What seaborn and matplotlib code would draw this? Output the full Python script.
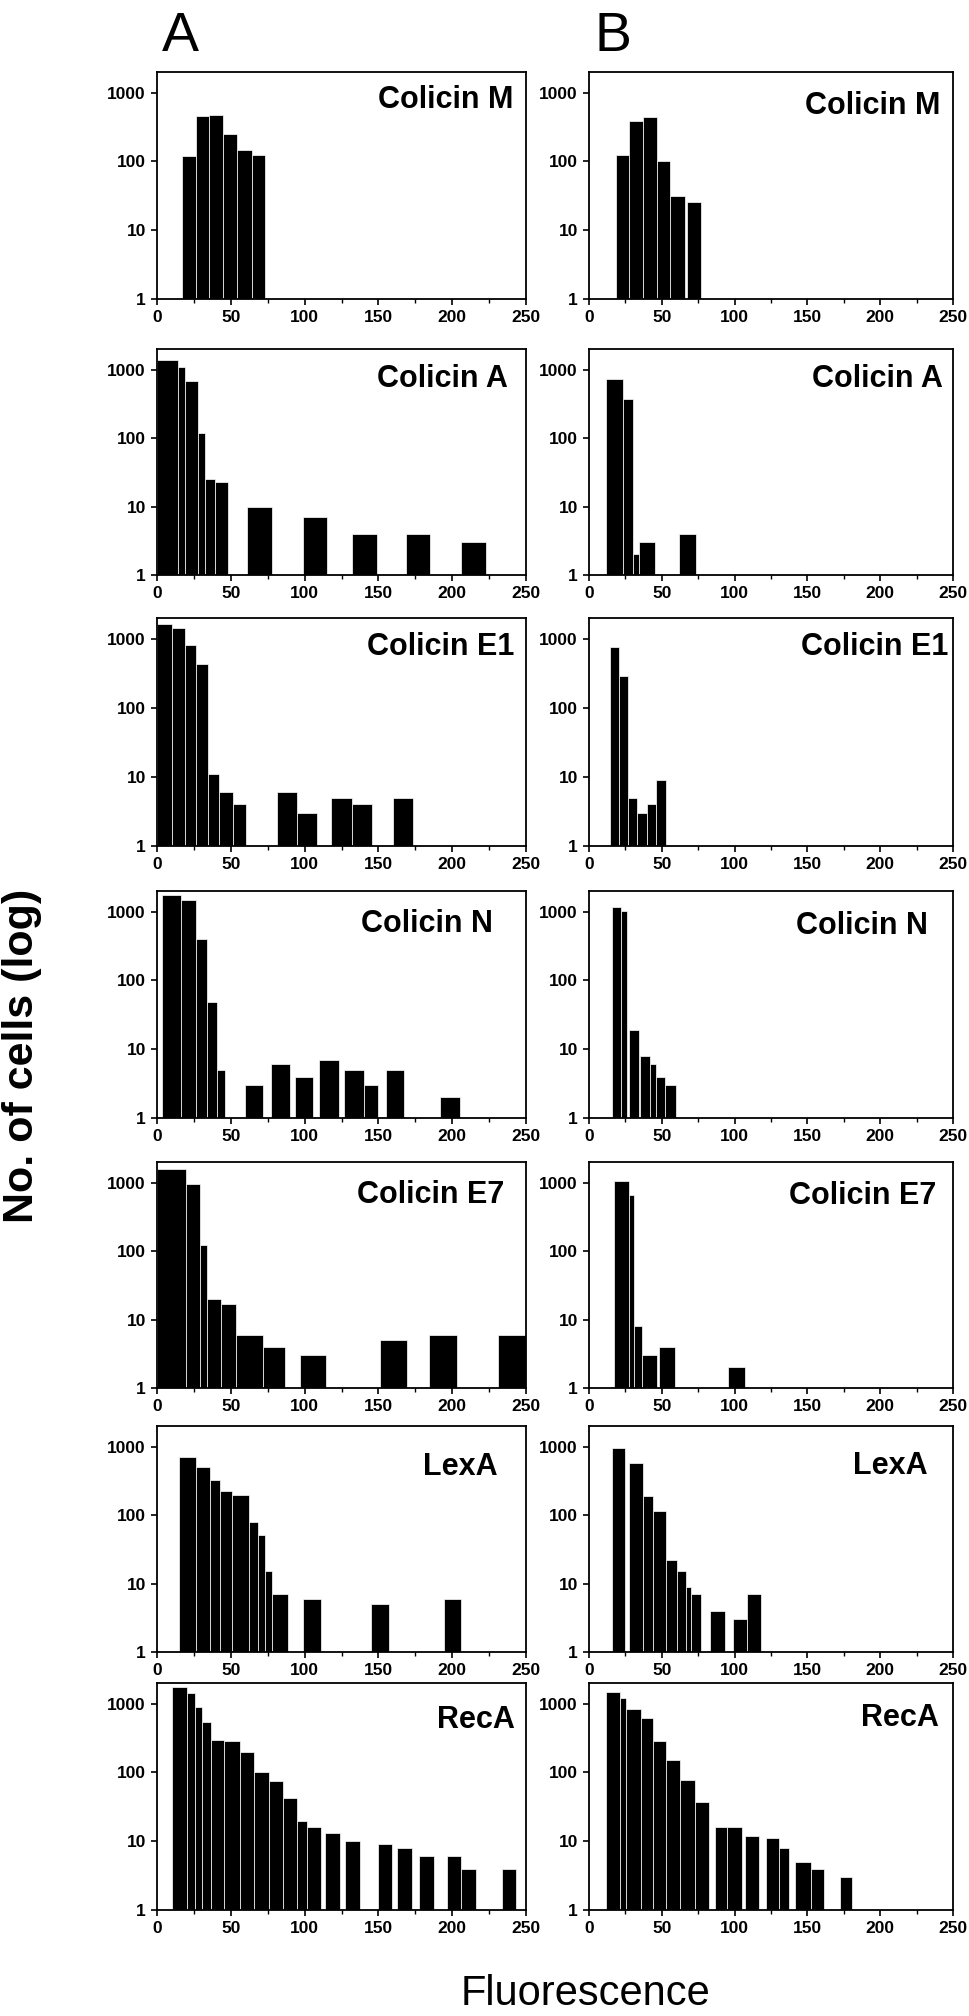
import matplotlib
matplotlib.use("Agg")
import matplotlib.pyplot as plt
from matplotlib.ticker import MultipleLocator, NullLocator
import numpy as np
import pandas as pd
import seaborn as sns

# panel titles, top to bottom
PANEL_NAMES = ["Colicin M", "Colicin A", "Colicin E1", "Colicin N",
               "Colicin E7", "LexA", "RecA"]

# bin edges (fluorescence) and cell counts; 0 = empty bin
colm_a_edges = [17, 26.5, 35.3, 44.8, 54.3, 64.4, 73.1]
colm_a_counts = [120, 452, 473, 247, 145, 125]
colm_b_edges = [18.5, 27.7, 37.3, 46.6, 55.4, 65.9, 67.5, 77.2]
colm_b_counts = [124, 387, 448, 103, 31, 0, 26]

cola_a_edges = [0, 14, 19, 27.7, 32.4, 39.5, 48.3, 61.3, 78.2, 98.7, 115,
                132, 149, 168.5, 185, 206, 223]
cola_a_counts = [1380, 1080, 690, 118, 25, 23, 0, 10, 0, 7, 0, 4, 0, 4, 0, 3]
cola_b_edges = [11.8, 23.1, 30.3, 34.5, 45, 61.8, 73.5]
cola_b_counts = [740, 366, 2, 3, 0, 4]

cole1_a_edges = [0, 10.1, 19, 26.2, 34.6, 41.8, 51.5, 60, 81, 95, 108.5,
                 117.8, 131.8, 145.7, 160, 173.6]
cole1_a_counts = [1650, 1430, 815, 428, 11, 6, 4, 0, 6, 3, 0, 5, 4, 0, 5]
cole1_b_edges = [14.7, 20.6, 26.9, 33.2, 39.6, 45.9, 52.6]
cole1_b_counts = [764, 285, 5, 3, 4, 9]

coln_a_edges = [3.4, 16.4, 26.1, 33.7, 40.4, 45.9, 59.3, 72, 77.4, 90, 93.4,
                106, 110, 123, 127, 140, 150, 155, 167.5, 192, 205]
coln_a_counts = [1750, 1480, 395, 49, 5, 0, 3, 0, 6, 0, 4, 0, 7, 0, 5, 3, 0,
                 5, 0, 2]
coln_b_edges = [15.6, 21.9, 26.1, 27.4, 34.1, 34.9, 41.7, 45.9, 52.2, 59.8]
coln_b_counts = [1170, 1020, 0, 19, 0, 8, 6, 4, 3]

cole7_a_edges = [0, 19.4, 29.1, 34.2, 43.5, 53.2, 71.8, 86.6, 97, 114.4,
                 150.8, 169.3, 184.5, 203.5, 231, 250]
cole7_a_counts = [1595, 966, 122, 20, 17, 6, 4, 0, 3, 0, 5, 0, 6, 0, 6]
cole7_b_edges = [16.9, 27.4, 30.8, 36.7, 46.8, 48, 59.4, 95.7, 107]
cole7_b_counts = [1057, 661, 8, 3, 0, 4, 0, 2]

lexa_a_edges = [14.8, 26.6, 35.8, 42.6, 50.6, 62, 68.3, 73, 77.6, 89, 98.7,
                111, 145, 157, 194.4, 206]
lexa_a_counts = [698, 499, 322, 223, 195, 80, 51, 15, 7, 0, 6, 0, 5, 0, 6]
lexa_b_edges = [16, 24.8, 27.8, 37, 43.8, 53, 60.2, 66.9, 70.3, 77, 83.3,
                93.4, 98.9, 108.6, 117.8]
lexa_b_counts = [955, 0, 571, 188, 113, 22, 15, 9, 7, 0, 4, 0, 3, 7]

reca_a_edges = [10.5, 20.2, 25.6, 30.7, 36.6, 45.4, 55.9, 66, 75.6, 85.3,
                95, 101.3, 111.3, 113.9, 124, 127.3, 137.4, 149.6, 159.2,
                162.6, 172.7, 177.3, 187.4, 196.6, 206.3, 216.4, 233.6, 243.3]
reca_a_counts = [1750, 1415, 895, 540, 299, 286, 200, 103, 74, 43, 20, 16, 0,
                 13, 0, 10, 0, 9, 0, 8, 0, 6, 0, 6, 4, 0, 4]
reca_b_edges = [11.4, 21.5, 25.7, 35.4, 43.8, 53, 62.7, 72.8, 82.1, 86.3,
                95.1, 104.8, 107.3, 116.6, 121.6, 130.5, 137.2, 141.8, 152.2,
                161.6, 172.1, 180.6]
reca_b_counts = [1480, 1210, 845, 624, 288, 152, 77, 37, 0, 16, 16, 0, 12, 0,
                 11, 8, 0, 5, 4, 0, 3]

DATA_A = [(colm_a_edges, colm_a_counts), (cola_a_edges, cola_a_counts),
          (cole1_a_edges, cole1_a_counts), (coln_a_edges, coln_a_counts),
          (cole7_a_edges, cole7_a_counts), (lexa_a_edges, lexa_a_counts),
          (reca_a_edges, reca_a_counts)]
DATA_B = [(colm_b_edges, colm_b_counts), (cola_b_edges, cola_b_counts),
          (cole1_b_edges, cole1_b_counts), (coln_b_edges, coln_b_counts),
          (cole7_b_edges, cole7_b_counts), (lexa_b_edges, lexa_b_counts),
          (reca_b_edges, reca_b_counts)]

Y_TICKS = [1, 10, 100, 1000]
X_TICKS = [0, 50, 100, 150, 200, 250]

# layout in pixels of the 969x2016 canvas
W, H = 969, 2016
ROW_TOP = [72, 349, 618, 891, 1162, 1426, 1683]
ROW_BOT = [299, 575, 846, 1118, 1388, 1652, 1910]
COL_A = (157, 526)
COL_B = (589, 953)
# title offsets from the top right corner (px)
TITLE_OFF_A = [(13, 13), (18, 15), (12, 14), (33, 18), (22, 18), (28, 26), (11, 22)]
TITLE_OFF_B = [(13, 19), (10, 15), (5, 14), (25, 20), (17, 19), (25, 25), (14, 20)]

sns.set_theme(style="ticks")
plt.rcParams["font.family"] = ["Liberation Sans", "DejaVu Sans"]
plt.rcParams["axes.edgecolor"] = "black"
plt.rcParams["text.color"] = "black"
plt.rcParams["xtick.color"] = "black"
plt.rcParams["ytick.color"] = "black"


def draw_panel(ax, edges, counts, title, off):
    e = np.asarray(edges, dtype=float)
    c = np.asarray(counts, dtype=float)
    df = pd.DataFrame({"fluo": (e[:-1] + e[1:]) / 2, "cells": c})
    df = df[df["cells"] > 0]
    sns.histplot(data=df, x="fluo", weights="cells", bins=list(edges), ax=ax,
                 color="black", edgecolor="white", linewidth=0.5, alpha=1)
    ax.set_yscale("log")
    ax.set_ylim(1, 2000)
    ax.set_xlim(0, 250)
    ax.set_xlabel("")
    ax.set_ylabel("")
    ax.set_yticks(Y_TICKS, [str(t) for t in Y_TICKS])
    ax.yaxis.set_minor_locator(NullLocator())
    ax.set_xticks(X_TICKS, [str(t) for t in X_TICKS])
    ax.xaxis.set_minor_locator(MultipleLocator(25))
    ax.tick_params(which="major", direction="out", length=4, width=1.2,
                   labelsize=12.5, pad=4, labelcolor="black")
    ax.tick_params(axis="x", which="minor", direction="out", length=3, width=1)
    for lab in ax.get_xticklabels() + ax.get_yticklabels():
        lab.set_fontweight("bold")
    for sp in ax.spines.values():
        sp.set_visible(True)
        sp.set_linewidth(1.3)
        sp.set_color("black")
    ax.annotate(title, xy=(1, 1), xycoords="axes fraction",
                xytext=(-off[0], -off[1]), textcoords="offset pixels",
                ha="right", va="top", fontsize=22, fontweight="bold",
                color="black")


fig = plt.figure(figsize=(W / 100, H / 100), dpi=100)
fig.patch.set_facecolor("white")

for i, name in enumerate(PANEL_NAMES):
    for (x0, x1), data, offs in [(COL_A, DATA_A, TITLE_OFF_A),
                                 (COL_B, DATA_B, TITLE_OFF_B)]:
        rect = [x0 / W, 1 - ROW_BOT[i] / H, (x1 - x0) / W,
                (ROW_BOT[i] - ROW_TOP[i]) / H]
        ax = fig.add_axes(rect)
        draw_panel(ax, data[i][0], data[i][1], name, offs[i])

fig.text(180 / W, 1 - 51 / H, "A", fontsize=40, ha="center", va="baseline")
fig.text(613 / W, 1 - 51 / H, "B", fontsize=40, ha="center", va="baseline")
fig.text(22 / W, 1 - 1056 / H, "No. of cells (log)", fontsize=31,
         fontweight="bold", rotation=90, ha="center", va="center")
fig.text(585 / W, 1 - 1994 / H, "Fluorescence", fontsize=30,
         ha="center", va="center")

fig.savefig("out.png", dpi=100, facecolor="white")
